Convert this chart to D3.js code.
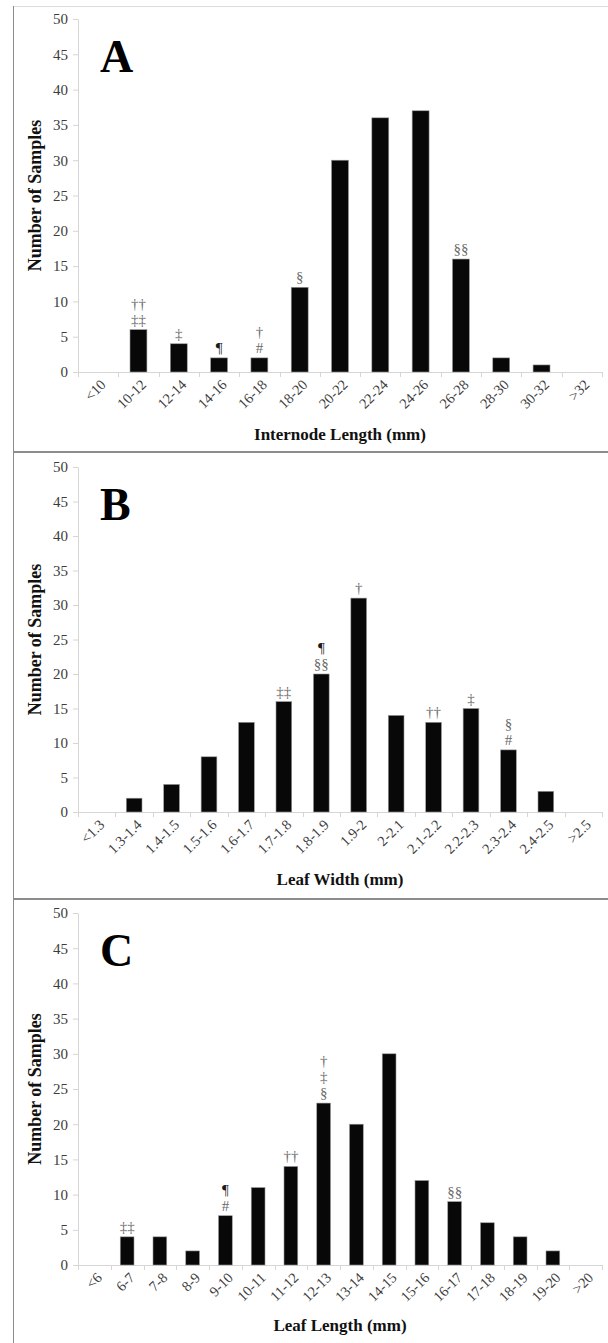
<!DOCTYPE html>
<html>
<head>
<meta charset="utf-8">
<script src="https://cdn.jsdelivr.net/npm/d3@7"></script>
<style>
  body { margin: 0; background: #fff; }
  svg { display: block; }
  text { font-family: "Liberation Serif", "Times New Roman", serif; }
</style>
</head>
<body>
<svg id="chart" width="608" height="1343"></svg>
<script>
// Panel A: internode length
const catsA = ["<10", "10-12", "12-14", "14-16", "16-18", "18-20", "20-22", "22-24", "24-26", "26-28", "28-30", "30-32", ">32"];
const valsA = [0, 6, 4, 2, 2, 12, 30, 36, 37, 16, 2, 1, 0];
const notesA = [[], ["††", "‡‡"], ["‡"], ["¶"], ["†", "#"], ["§"], [], [], [], ["§§"], [], [], []];

// Panel B: leaf width
const catsB = ["<1.3", "1.3-1.4", "1.4-1.5", "1.5-1.6", "1.6-1.7", "1.7-1.8", "1.8-1.9", "1.9-2", "2-2.1", "2.1-2.2", "2.2-2.3", "2.3-2.4", "2.4-2.5", ">2.5"];
const valsB = [0, 2, 4, 8, 13, 16, 20, 31, 14, 13, 15, 9, 3, 0];
const notesB = [[], [], [], [], [], ["‡‡"], ["¶", "§§"], ["†"], [], ["††"], ["‡"], ["§", "#"], [], []];

// Panel C: leaf length
const catsC = ["<6", "6-7", "7-8", "8-9", "9-10", "10-11", "11-12", "12-13", "13-14", "14-15", "15-16", "16-17", "17-18", "18-19", "19-20", ">20"];
const valsC = [0, 4, 4, 2, 7, 11, 14, 23, 20, 30, 12, 9, 6, 4, 2, 0];
const notesC = [[], ["‡‡"], [], [], ["¶", "#"], [], ["††"], ["†", "‡", "§"], [], [], [], ["§§"], [], [], [], []];

const yTicks = [0, 5, 10, 15, 20, 25, 30, 35, 40, 45, 50];
const yTitle = "Number of Samples";

const panels = [
  { letter: "A", cats: catsA, vals: valsA, notes: notesA, title: "Internode Length (mm)", top: 19, bottom: 372, titleGap: 68 },
  { letter: "B", cats: catsB, vals: valsB, notes: notesB, title: "Leaf Width (mm)", top: 467, bottom: 812, titleGap: 73 },
  { letter: "C", cats: catsC, vals: valsC, notes: notesC, title: "Leaf Length (mm)", top: 913, bottom: 1265, titleGap: 66 }
];

const FONT = '"Liberation Serif", "Times New Roman", serif';
const svg = d3.select("#chart");
const X0 = 78, X1 = 602;
const axisGrey = "#d6d6d6";
const labelGrey = "#3c3c3c";

// frame lines
svg.append("line").attr("x1", 13).attr("x2", 608).attr("y1", 6.5).attr("y2", 6.5)
  .attr("stroke", "#dcdcdc").attr("stroke-width", 1);
svg.append("line").attr("x1", 13.5).attr("x2", 13.5).attr("y1", 6).attr("y2", 1343)
  .attr("stroke", "#8c8c8c").attr("stroke-width", 1);
[452, 899].forEach(yy => {
  svg.append("line").attr("x1", 13).attr("x2", 608).attr("y1", yy).attr("y2", yy)
    .attr("stroke", "#8c8c8c").attr("stroke-width", 2);
});

panels.forEach(p => {
  const g = svg.append("g");
  const x = d3.scaleBand().domain(p.cats).range([X0, X1]).paddingInner(0).paddingOuter(0);
  const y = d3.scaleLinear().domain([0, 50]).range([p.bottom, p.top]);

  // y axis
  const ya = g.append("g").attr("transform", `translate(${X0},0)`)
    .call(d3.axisLeft(y).tickValues(yTicks).tickSize(5).tickSizeOuter(0).tickPadding(5));
  ya.attr("font-family", null).attr("font-size", null);
  ya.select(".domain").attr("stroke", axisGrey);
  ya.selectAll(".tick line").attr("stroke", axisGrey);
  ya.selectAll(".tick text").attr("fill", labelGrey)
    .style("font-family", FONT).style("font-size", "15px");

  // x axis line with ticks on category boundaries
  g.append("line").attr("x1", X0).attr("x2", X1).attr("y1", p.bottom + 0.5).attr("y2", p.bottom + 0.5)
    .attr("stroke", axisGrey);
  const bounds = p.cats.map(c => x(c)).concat([x.range()[1]]);
  g.selectAll(".xt").data(bounds).join("line").attr("class", "xt")
    .attr("x1", d => Math.round(d) + 0.5).attr("x2", d => Math.round(d) + 0.5)
    .attr("y1", p.bottom).attr("y2", p.bottom + 5).attr("stroke", axisGrey);

  // rotated category labels
  g.selectAll(".xl").data(p.cats).join("text").attr("class", "xl")
    .attr("transform", d => `translate(${x(d) + x.bandwidth() / 2 + 5},${p.bottom + 10}) rotate(-45)`)
    .attr("text-anchor", "end").attr("dy", "0.35em")
    .attr("fill", labelGrey).style("font-family", FONT).style("font-size", "14.5px")
    .text(d => d);

  // bars
  const bw = x.bandwidth() * 0.42;
  g.selectAll(".bar").data(p.cats).join("rect").attr("class", "bar")
    .attr("x", d => x(d) + (x.bandwidth() - bw) / 2)
    .attr("width", bw)
    .attr("y", (d, i) => y(p.vals[i]))
    .attr("height", (d, i) => y(0) - y(p.vals[i]))
    .attr("fill", "#080808")
    .attr("stroke", "#9a9a9a").attr("stroke-width", 0.6);

  // significance symbols stacked above bars
  p.cats.forEach((c, i) => {
    const lines = p.notes[i];
    const n = lines.length;
    lines.forEach((s, k) => {
      const level = n - 1 - k;
      g.append("text")
        .attr("x", x(c) + x.bandwidth() / 2)
        .attr("y", y(p.vals[i]) - 5 - level * 16)
        .attr("text-anchor", "middle")
        .attr("fill", s === "¶" ? "#1a1a1a" : "#6a6a6a")
        .style("font-family", FONT).style("font-size", "15px")
        .text(s);
    });
  });

  // panel letter
  g.append("text").attr("x", 100).attr("y", p.top + 53)
    .style("font-family", FONT).style("font-size", "46px").style("font-weight", "bold").attr("fill", "#000")
    .text(p.letter);

  // axis titles
  g.append("text")
    .attr("transform", `translate(41,${(p.top + p.bottom) / 2}) rotate(-90)`)
    .attr("text-anchor", "middle")
    .style("font-family", FONT).style("font-size", "18px").style("font-weight", "bold")
    .attr("fill", "#111").text(yTitle);
  g.append("text")
    .attr("x", (X0 + X1) / 2).attr("y", p.bottom + p.titleGap)
    .attr("text-anchor", "middle")
    .style("font-family", FONT).style("font-size", "17px").style("font-weight", "bold")
    .attr("fill", "#111").text(p.title);
});
</script>
</body>
</html>
